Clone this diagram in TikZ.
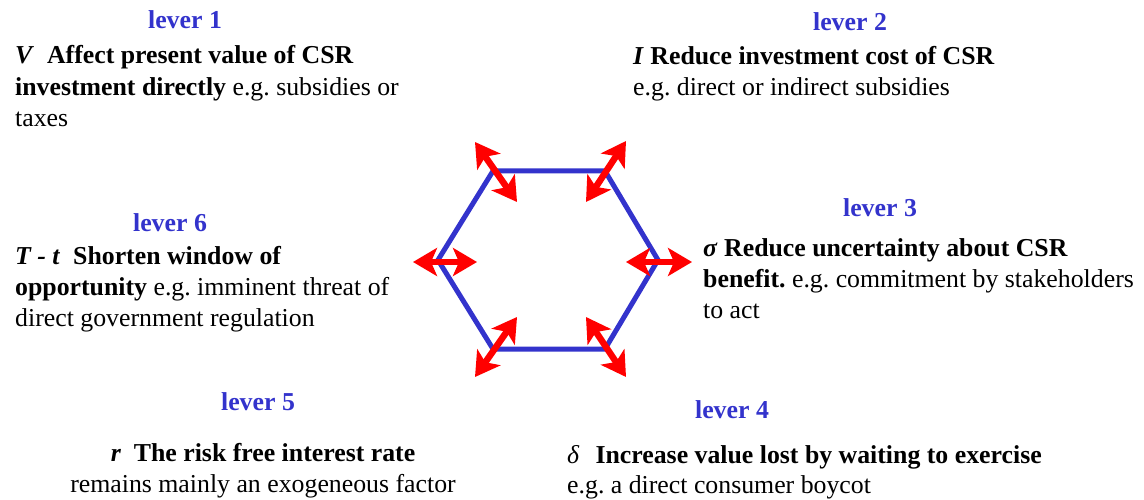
\documentclass[tikz,border=0pt]{standalone}
\usepackage{fontspec}
\setmainfont{Liberation Serif}
\usetikzlibrary{arrows.meta}
\definecolor{leverblue}{RGB}{51,51,204}
\definecolor{hexblue}{RGB}{51,51,204}
\begin{document}
\begin{tikzpicture}[x=1pt,y=-1pt,
  lever/.style={font=\fontsize{25.8}{30}\selectfont\bfseries, text=leverblue, inner sep=0pt, anchor=base},
  txt/.style={font=\fontsize{25.8}{30}\selectfont, inner sep=0pt, anchor=base west},
  ctxt/.style={font=\fontsize{25.8}{30}\selectfont, inner sep=0pt, anchor=base},
  hexline/.style={draw=hexblue, line width=5pt, line join=miter},
  arr/.style={draw=red, line width=6.5pt, {Stealth[length=24pt,width=28pt,inset=6pt]}-{Stealth[length=24pt,width=28pt,inset=6pt]}}]
\useasboundingbox (0,0) rectangle (1144,500);
% hexagon
\coordinate (TL) at (493,171);
\coordinate (TR) at (605,171);
\coordinate (R) at (658,260);
\coordinate (BR) at (605,349);
\coordinate (BL) at (493,349);
\coordinate (L) at (438,260);
\draw[hexline] (TL) -- (TR) -- (R) -- (BR) -- (BL) -- (L) -- cycle;
% arrows
\coordinate (a1o) at (475,142); \coordinate (a1i) at (517,202);
\coordinate (a2o) at (626,141); \coordinate (a2i) at (586,202);
\coordinate (a3i) at (626,262); \coordinate (a3o) at (692,262);
\coordinate (a6o) at (413,262); \coordinate (a6i) at (477,262);
\coordinate (a5o) at (475,377); \coordinate (a5i) at (517,317);
\coordinate (a4o) at (626,377); \coordinate (a4i) at (586,317);
\draw[arr] (a1o) -- (a1i);
\draw[arr] (a2o) -- (a2i);
\draw[arr] (a3i) -- (a3o);
\draw[arr] (a6o) -- (a6i);
\draw[arr] (a5o) -- (a5i);
\draw[arr] (a4o) -- (a4i);
% lever 1
\node[lever] (lv1) at (185,29) {lever 1};
\node[txt] (t1a) at (15,64) {\textbf{\textit{V}\ \ Affect present value of CSR}};
\node[txt] (t1b) at (15,96) {\textbf{investment directly} e.g.\ subsidies or};
\node[txt] (t1c) at (15,127) {taxes};
% lever 2
\node[lever] (lv2) at (850,31) {lever 2};
\node[txt] (t2a) at (633,65) {\textbf{\textit{I} Reduce investment cost of CSR}};
\node[txt] (t2b) at (633,96) {e.g.\ direct or indirect subsidies};
% lever 6
\node[lever] (lv6) at (170,232) {lever 6};
\node[txt] (t6a) at (15,264) {\textbf{\textit{T - t}\ \ Shorten window of}};
\node[txt] (t6b) at (15,295) {\textbf{opportunity} e.g.\ imminent threat of};
\node[txt] (t6c) at (15,326) {direct government regulation};
% lever 3
\node[lever] (lv3) at (880,217) {lever 3};
\node[txt] (t3a) at (703,256) {\textbf{\textit{σ} Reduce uncertainty about CSR}};
\node[txt] (t3b) at (703,287) {\textbf{benefit.}\ e.g.\ commitment by stakeholders};
\node[txt] (t3c) at (703,318) {to act};
% lever 5
\node[lever] (lv5) at (258,410) {lever 5};
\node[ctxt] (t5a) at (263,461) {\textbf{\textit{r}\ \ The risk free interest rate}};
\node[ctxt] (t5b) at (263,492) {remains mainly an exogeneous factor};
% lever 4
\node[lever] (lv4) at (732,418) {lever 4};
\node[txt] (t4a) at (567,463) {\textit{δ}\hspace{16pt}\textbf{Increase value lost by waiting to exercise}};
\node[txt] (t4b) at (567,493) {e.g.\ a direct consumer boycot};
\end{tikzpicture}
\end{document}
